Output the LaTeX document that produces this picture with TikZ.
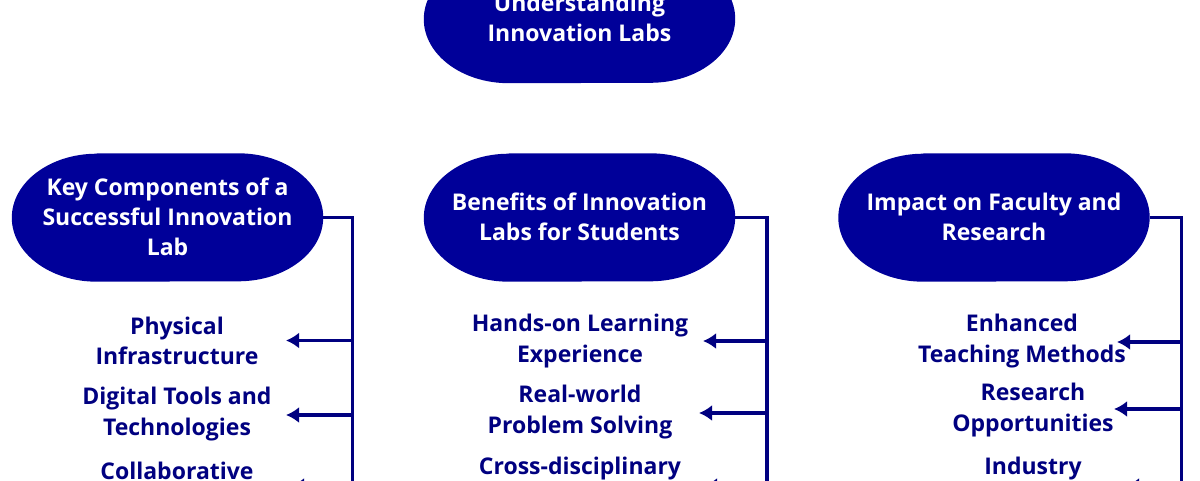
\documentclass[tikz,border=0pt]{standalone}
\usepackage{fontspec}
\setmainfont{Open Sans}[BoldFont={* Bold}]
\usetikzlibrary{arrows.meta,calc}
\definecolor{pillblue}{RGB}{0,0,153}
\definecolor{navy}{RGB}{0,0,128}
\tikzset{
  pill/.style={minimum width=311pt,minimum height=128pt,inner sep=0pt,
    align=center,text=white,font=\fontsize{23}{30}\selectfont\bfseries},
  leaf/.style={align=center,text=navy,inner sep=0pt,font=\fontsize{23}{30.5}\selectfont\bfseries},
  conn/.style={draw=navy,line width=3.6pt},
  arr/.style={draw=navy,line width=3.6pt,-{Latex[length=13pt,width=16pt]}}
}
\newcommand{\pillbg}[1]{%
  \fill[pillblue] ([xshift=85pt]#1.north west) -- ([xshift=-85pt]#1.north east)
    arc[start angle=90,end angle=-90,x radius=85pt,y radius=64pt]
    -- ([xshift=85pt]#1.south west)
    arc[start angle=270,end angle=90,x radius=85pt,y radius=64pt] -- cycle;}
\begin{document}
\begin{tikzpicture}[x=1pt,y=-1pt]
\useasboundingbox (0,0) rectangle (1200,480);
\clip (0,0) rectangle (1200,480);
% pill placeholders
\node[pill] (top) at (579.5,19) {};
\node[pill] (kc) at (167.5,217.5) {};
\node[pill] (bn) at (579.5,217.5) {};
\node[pill] (im) at (994,217.5) {};
\pillbg{top}\pillbg{kc}\pillbg{bn}\pillbg{im}
\node[pill] at ([yshift=1pt]top) {Understanding\\Innovation Labs};
\node[pill] at ([yshift=1pt]kc) {Key Components of a\\Successful Innovation\\Lab};
\node[pill] at ([yshift=1pt]bn) {Benefits of Innovation\\Labs for Students};
\node[pill] at ([yshift=1pt]im) {Impact on Faculty and\\Research};
% leaves
\node[leaf] (k1) at (177,341) {Physical\\Infrastructure};
\node[leaf] (k2) at (177,414) {Digital Tools and\\Technologies};
\node[leaf] (k3) at (177,470.5) {Collaborative};
\node[leaf] (b1) at (580,341) {Hands-on Learning\\Experience};
\node[leaf] (b2) at (580,412) {Real-world\\Problem Solving};
\node[leaf] (b3) at (580,468.5) {Cross-disciplinary};
\node[leaf] (i1) at (1022,341) {Enhanced\\Teaching Methods};
\node[leaf] (i2) at (1033,410) {Research\\Opportunities};
\node[leaf] (i3) at (1033,468.5) {Industry};
% branch lines
\coordinate (kv) at (352.5,520);
\coordinate (bv) at (767,520);
\coordinate (iv) at (1181.5,520);
\draw[conn] (kc.east) -| (kv);
\draw[conn] (bn.east) -| (bv);
\draw[conn] (im.east) -| (iv);
% arrows
\coordinate (ka1) at (352.5,340.5); \coordinate (kt1) at (286,340.5);
\coordinate (ka2) at (352.5,415); \coordinate (kt2) at (286,415);
\coordinate (ka3) at (352.5,486); \coordinate (kt3) at (291,486);
\coordinate (ba1) at (767,341); \coordinate (bt1) at (703,341);
\coordinate (ba2) at (767,413); \coordinate (bt2) at (699,413);
\coordinate (ba3) at (767,486); \coordinate (bt3) at (704,486);
\coordinate (ia1) at (1181.5,342); \coordinate (it1) at (1117,342);
\coordinate (ia2) at (1181.5,409); \coordinate (it2) at (1114,409);
\coordinate (ia3) at (1181.5,486); \coordinate (it3) at (1126,486);
\foreach \p in {k,b,i}{
  \foreach \n in {1,2,3}{\draw[arr] (\p a\n) -- (\p t\n);}
}
\end{tikzpicture}
\end{document}
